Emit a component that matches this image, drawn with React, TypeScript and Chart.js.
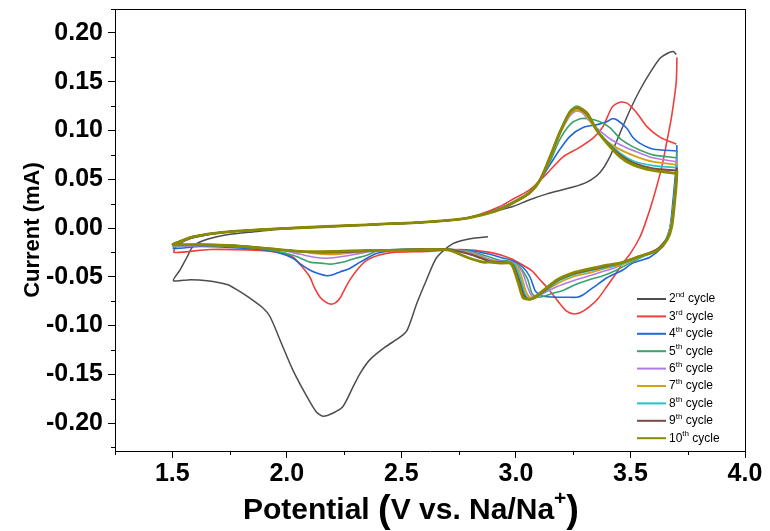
import React, { useEffect, useRef } from "react";
import { Chart, registerables } from "chart.js";

Chart.register(...registerables);

// ---- data (potential V, current mA) ----
const xMajorTicks = [1.5, 2.0, 2.5, 3.0, 3.5, 4.0];
const yMajorTicks = [-0.2, -0.15, -0.1, -0.05, 0.0, 0.05, 0.1, 0.15, 0.2];
const cycleNumbers = ["2", "3", "4", "5", "6", "7", "8", "9", "10"];
const cycleSuffixes = ["nd", "rd", "th", "th", "th", "th", "th", "th", "th"];
const cycleColors = ["#4d4d4d", "#f23d3d", "#2167d8", "#3aa36b", "#b07ce6", "#d4a01a", "#22c4c4", "#7a4a4a", "#8a8a00"];

const cycle2 = [
  [2.878, -0.009], [2.8, -0.011], [2.725, -0.016], [2.655, -0.03], [2.61, -0.053], [2.568, -0.077],
  [2.525, -0.105], [2.494, -0.112], [2.43, -0.122], [2.363, -0.135], [2.32, -0.149], [2.289, -0.163],
  [2.245, -0.183], [2.2, -0.19], [2.158, -0.193], [2.13, -0.189], [2.088, -0.173], [2.027, -0.146],
  [1.983, -0.122], [1.927, -0.091], [1.896, -0.082], [1.839, -0.072], [1.78, -0.063], [1.739, -0.058],
  [1.652, -0.054], [1.58, -0.053], [1.505, -0.054], [1.534, -0.043], [1.564, -0.03], [1.59, -0.019],
  [1.634, -0.013], [1.739, -0.007], [1.85, -0.004], [2.03, 0.0], [2.32, 0.003], [2.6, 0.006],
  [2.756, 0.009], [2.843, 0.013], [2.92, 0.018], [2.987, 0.022], [3.06, 0.029], [3.136, 0.035],
  [3.25, 0.042], [3.31, 0.047], [3.367, 0.057], [3.41, 0.073], [3.454, 0.097], [3.498, 0.121],
  [3.54, 0.141], [3.585, 0.159], [3.629, 0.174], [3.66, 0.179], [3.686, 0.181], [3.7, 0.178],
];
const cycle3 = [
  [3.703, 0.175], [3.7, 0.15], [3.69, 0.131], [3.675, 0.108], [3.66, 0.09], [3.637, 0.063],
  [3.598, 0.029], [3.565, 0.005], [3.54, -0.01], [3.5, -0.026], [3.467, -0.036], [3.43, -0.049],
  [3.397, -0.06], [3.36, -0.072], [3.32, -0.081], [3.28, -0.087], [3.25, -0.088], [3.22, -0.085],
  [3.18, -0.074], [3.14, -0.062], [3.105, -0.053], [3.07, -0.044], [3.03, -0.038], [2.974, -0.031],
  [2.887, -0.025], [2.756, -0.022], [2.61, -0.024], [2.463, -0.025], [2.4, -0.028], [2.35, -0.033],
  [2.31, -0.042], [2.276, -0.053], [2.25, -0.064], [2.232, -0.072], [2.21, -0.077], [2.19, -0.078],
  [2.17, -0.076], [2.145, -0.071], [2.12, -0.061], [2.1, -0.05], [2.06, -0.038], [2.027, -0.03],
  [1.96, -0.025], [1.883, -0.023], [1.665, -0.022], [1.508, -0.025], [1.52, -0.018], [1.59, -0.01],
  [1.74, -0.004], [2.03, 0.0], [2.32, 0.003], [2.6, 0.006], [2.756, 0.009], [2.843, 0.014],
  [2.93, 0.022], [2.99, 0.03], [3.06, 0.039], [3.136, 0.056], [3.206, 0.073], [3.28, 0.083],
  [3.34, 0.093], [3.38, 0.104], [3.42, 0.124], [3.454, 0.129], [3.485, 0.128], [3.528, 0.118],
  [3.572, 0.104], [3.63, 0.093], [3.7, 0.086],
];
const cycle4 = [
  [3.703, 0.085], [3.7, 0.065], [3.694, 0.049], [3.686, 0.029], [3.673, 0.001], [3.655, -0.012],
  [3.642, -0.019], [3.585, -0.03], [3.51, -0.036], [3.467, -0.043], [3.397, -0.051], [3.35, -0.059],
  [3.32, -0.064], [3.29, -0.069], [3.267, -0.071], [3.22, -0.071], [3.18, -0.071], [3.118, -0.07],
  [3.095, -0.067], [3.083, -0.064], [3.061, -0.05], [3.03, -0.04], [2.99, -0.034], [2.93, -0.03],
  [2.887, -0.027], [2.8, -0.023], [2.712, -0.022], [2.6, -0.022], [2.5, -0.022], [2.394, -0.026],
  [2.32, -0.035], [2.27, -0.042], [2.232, -0.045], [2.2, -0.048], [2.175, -0.049], [2.14, -0.047],
  [2.1, -0.043], [2.06, -0.037], [2.027, -0.031], [1.96, -0.025], [1.88, -0.022], [1.75, -0.02],
  [1.62, -0.019], [1.505, -0.021], [1.52, -0.017], [1.59, -0.01], [1.74, -0.004], [2.03, 0.0],
  [2.32, 0.003], [2.6, 0.006], [2.756, 0.009], [2.843, 0.013], [2.93, 0.02], [2.99, 0.027],
  [3.06, 0.036], [3.105, 0.049], [3.149, 0.065], [3.19, 0.08], [3.236, 0.094], [3.293, 0.103],
  [3.354, 0.106], [3.397, 0.109], [3.42, 0.112], [3.44, 0.111], [3.485, 0.102], [3.51, 0.093],
  [3.54, 0.087], [3.598, 0.081], [3.7, 0.079],
];
const cycle5 = [
  [3.703, 0.079], [3.7, 0.06], [3.694, 0.04], [3.68, 0.01], [3.66, -0.01], [3.62, -0.022],
  [3.54, -0.031], [3.44, -0.043], [3.38, -0.049], [3.32, -0.053], [3.26, -0.058], [3.206, -0.064],
  [3.16, -0.067], [3.136, -0.069], [3.092, -0.071], [3.07, -0.067], [3.05, -0.052], [3.01, -0.038],
  [2.97, -0.034], [2.93, -0.033], [2.887, -0.03], [2.8, -0.024], [2.712, -0.022], [2.55, -0.022],
  [2.4, -0.023], [2.35, -0.028], [2.3, -0.031], [2.26, -0.034], [2.22, -0.036], [2.19, -0.037],
  [2.15, -0.036], [2.1, -0.035], [2.06, -0.031], [2.027, -0.028], [1.96, -0.024], [1.88, -0.021],
  [1.75, -0.019], [1.62, -0.018], [1.505, -0.019], [1.52, -0.016], [1.59, -0.009], [1.74, -0.004],
  [2.03, 0.0], [2.32, 0.003], [2.6, 0.006], [2.756, 0.009], [2.843, 0.013], [2.93, 0.02],
  [2.99, 0.027], [3.06, 0.037], [3.105, 0.05], [3.149, 0.068], [3.19, 0.09], [3.236, 0.106],
  [3.28, 0.112], [3.32, 0.112], [3.367, 0.109], [3.41, 0.103], [3.454, 0.092], [3.498, 0.085],
  [3.54, 0.08], [3.598, 0.075], [3.7, 0.072],
];
const cycle6 = [
  [3.703, 0.072], [3.7, 0.055], [3.694, 0.037], [3.68, 0.008], [3.66, -0.01], [3.616, -0.022],
  [3.54, -0.03], [3.44, -0.04], [3.32, -0.049], [3.25, -0.054], [3.18, -0.06], [3.12, -0.067],
  [3.09, -0.071], [3.07, -0.07], [3.05, -0.06], [3.03, -0.046], [3.005, -0.038], [2.97, -0.035],
  [2.93, -0.034], [2.887, -0.032], [2.8, -0.025], [2.712, -0.022], [2.55, -0.022], [2.4, -0.023],
  [2.32, -0.026], [2.25, -0.029], [2.175, -0.031], [2.12, -0.03], [2.06, -0.027], [1.96, -0.022],
  [1.765, -0.018], [1.62, -0.018], [1.505, -0.019], [1.52, -0.016], [1.59, -0.009], [1.74, -0.004],
  [2.03, 0.0], [2.32, 0.003], [2.6, 0.006], [2.756, 0.009], [2.843, 0.013], [2.93, 0.019],
  [2.99, 0.026], [3.06, 0.036], [3.105, 0.05], [3.149, 0.071], [3.19, 0.095], [3.236, 0.115],
  [3.265, 0.12], [3.29, 0.118], [3.32, 0.11], [3.38, 0.097], [3.42, 0.09], [3.485, 0.082],
  [3.54, 0.077], [3.598, 0.072], [3.7, 0.068],
];
const cycle7 = [
  [3.703, 0.068], [3.7, 0.052], [3.694, 0.035], [3.68, 0.006], [3.66, -0.01], [3.616, -0.022],
  [3.54, -0.03], [3.454, -0.038], [3.397, -0.041], [3.32, -0.046], [3.25, -0.05], [3.18, -0.057],
  [3.12, -0.066], [3.085, -0.072], [3.065, -0.072], [3.045, -0.066], [3.025, -0.05], [3.005, -0.039],
  [2.98, -0.036], [2.93, -0.035], [2.887, -0.033], [2.8, -0.026], [2.712, -0.022], [2.55, -0.022],
  [2.4, -0.023], [2.3, -0.025], [2.2, -0.027], [2.12, -0.026], [2.057, -0.024], [1.913, -0.021],
  [1.765, -0.018], [1.62, -0.017], [1.503, -0.018], [1.52, -0.016], [1.59, -0.009], [1.74, -0.004],
  [2.03, 0.0], [2.32, 0.003], [2.6, 0.006], [2.756, 0.009], [2.843, 0.013], [2.93, 0.019],
  [2.99, 0.026], [3.06, 0.036], [3.105, 0.049], [3.149, 0.072], [3.19, 0.096], [3.236, 0.117],
  [3.27, 0.121], [3.3, 0.117], [3.34, 0.104], [3.38, 0.093], [3.42, 0.085], [3.485, 0.077],
  [3.54, 0.072], [3.598, 0.068], [3.7, 0.065],
];
const cycle8 = [
  [3.703, 0.065], [3.7, 0.049], [3.694, 0.033], [3.68, 0.005], [3.66, -0.01], [3.616, -0.022],
  [3.54, -0.03], [3.454, -0.037], [3.397, -0.04], [3.32, -0.044], [3.25, -0.048], [3.18, -0.055],
  [3.12, -0.066], [3.08, -0.072], [3.06, -0.073], [3.04, -0.068], [3.02, -0.052], [3.0, -0.04],
  [2.98, -0.036], [2.93, -0.035], [2.887, -0.034], [2.8, -0.027], [2.712, -0.022], [2.55, -0.022],
  [2.4, -0.023], [2.2, -0.025], [2.057, -0.024], [1.913, -0.021], [1.765, -0.018], [1.62, -0.017],
  [1.503, -0.018], [1.52, -0.016], [1.59, -0.009], [1.74, -0.004], [2.03, 0.0], [2.32, 0.003],
  [2.6, 0.006], [2.756, 0.009], [2.843, 0.013], [2.93, 0.019], [2.99, 0.026], [3.06, 0.036],
  [3.105, 0.049], [3.149, 0.073], [3.19, 0.098], [3.236, 0.12], [3.265, 0.125], [3.3, 0.119],
  [3.354, 0.101], [3.4, 0.088], [3.454, 0.077], [3.51, 0.069], [3.598, 0.064], [3.7, 0.062],
];
const cycle9 = [
  [3.703, 0.062], [3.7, 0.047], [3.694, 0.031], [3.68, 0.003], [3.66, -0.011], [3.616, -0.022],
  [3.54, -0.029], [3.454, -0.036], [3.397, -0.039], [3.32, -0.043], [3.25, -0.047], [3.18, -0.054],
  [3.12, -0.065], [3.078, -0.072], [3.055, -0.073], [3.035, -0.069], [3.015, -0.054], [2.99, -0.039],
  [2.974, -0.036], [2.93, -0.035], [2.887, -0.034], [2.8, -0.027], [2.712, -0.022], [2.55, -0.022],
  [2.4, -0.023], [2.2, -0.025], [2.057, -0.024], [1.913, -0.021], [1.765, -0.018], [1.62, -0.017],
  [1.503, -0.017], [1.52, -0.015], [1.59, -0.009], [1.74, -0.004], [2.03, 0.0], [2.32, 0.003],
  [2.6, 0.006], [2.756, 0.009], [2.843, 0.013], [2.93, 0.019], [2.99, 0.026], [3.06, 0.036],
  [3.105, 0.049], [3.149, 0.073], [3.19, 0.097], [3.236, 0.119], [3.268, 0.123], [3.31, 0.117],
  [3.354, 0.1], [3.397, 0.088], [3.454, 0.075], [3.51, 0.067], [3.598, 0.061], [3.7, 0.059],
];
const cycle10 = [
  [3.703, 0.059], [3.7, 0.045], [3.694, 0.029], [3.68, 0.001], [3.66, -0.012], [3.616, -0.023],
  [3.54, -0.029], [3.454, -0.036], [3.397, -0.038], [3.32, -0.042], [3.25, -0.046], [3.18, -0.053],
  [3.12, -0.064], [3.075, -0.072], [3.05, -0.073], [3.03, -0.071], [3.01, -0.056], [2.987, -0.04],
  [2.974, -0.036], [2.93, -0.036], [2.887, -0.035], [2.856, -0.035], [2.786, -0.03], [2.712, -0.023],
  [2.638, -0.022], [2.494, -0.023], [2.35, -0.023], [2.2, -0.024], [2.057, -0.024], [1.913, -0.021],
  [1.765, -0.018], [1.62, -0.017], [1.503, -0.017], [1.52, -0.015], [1.59, -0.009], [1.74, -0.004],
  [2.03, 0.0], [2.32, 0.003], [2.6, 0.006], [2.756, 0.009], [2.843, 0.013], [2.93, 0.019],
  [2.99, 0.026], [3.06, 0.036], [3.105, 0.049], [3.149, 0.073], [3.19, 0.097], [3.236, 0.119],
  [3.27, 0.124], [3.31, 0.118], [3.354, 0.1], [3.397, 0.087], [3.454, 0.073], [3.51, 0.065],
  [3.598, 0.059], [3.7, 0.056],
];

const allCycles = [cycle2, cycle3, cycle4, cycle5, cycle6, cycle7, cycle8, cycle9, cycle10];
const lineWidths = [1.5, 1.6, 1.6, 1.6, 1.6, 1.8, 1.8, 2, 2.8];

const FONT = "'Liberation Sans', Arial, Helvetica, sans-serif";

const decorPlugin = {
  id: "decor",
  afterDraw(chart: any) {
    const { ctx, chartArea: a, scales } = chart;
    const xs = scales.x;
    const ys = scales.y;
    ctx.save();
    ctx.strokeStyle = "#000";
    ctx.lineWidth = 1;
    // top and right frame
    ctx.beginPath();
    ctx.moveTo(a.left, Math.round(a.top) + 0.5);
    ctx.lineTo(a.right, Math.round(a.top) + 0.5);
    ctx.moveTo(Math.round(a.right) + 0.5, a.top);
    ctx.lineTo(Math.round(a.right) + 0.5, a.bottom);
    ctx.stroke();
    // minor ticks
    ctx.beginPath();
    for (let v = 1.25; v <= 4.0001; v += 0.5) {
      const px = Math.round(xs.getPixelForValue(v)) + 0.5;
      ctx.moveTo(px, a.bottom);
      ctx.lineTo(px, a.bottom + 4);
    }
    for (let v = -0.225; v <= 0.2251; v += 0.05) {
      const py = Math.round(ys.getPixelForValue(v)) + 0.5;
      ctx.moveTo(a.left, py);
      ctx.lineTo(a.left - 4, py);
    }
    ctx.stroke();

    // legend
    const lx0 = 637, lx1 = 666, tx = 669, ly0 = 299, step = 17.4;
    ctx.textBaseline = "middle";
    ctx.textAlign = "left";
    ctx.fillStyle = "#000";
    for (let i = 0; i < cycleNumbers.length; i++) {
      const y = ly0 + i * step;
      ctx.strokeStyle = cycleColors[i];
      ctx.lineWidth = 2;
      ctx.beginPath();
      ctx.moveTo(lx0, y);
      ctx.lineTo(lx1, y);
      ctx.stroke();
      let x = tx;
      ctx.font = `12px ${FONT}`;
      ctx.fillText(cycleNumbers[i], x, y);
      x += ctx.measureText(cycleNumbers[i]).width;
      ctx.font = `8px ${FONT}`;
      ctx.fillText(cycleSuffixes[i], x, y - 4);
      x += ctx.measureText(cycleSuffixes[i]).width;
      ctx.font = `12px ${FONT}`;
      ctx.fillText(" cycle", x, y);
    }

    // y title
    ctx.save();
    ctx.translate(33, 230);
    ctx.rotate(-Math.PI / 2);
    ctx.textAlign = "center";
    ctx.textBaseline = "middle";
    ctx.font = `bold 22px ${FONT}`;
    ctx.fillText("Current (mA)", 0, 0);
    ctx.restore();

    // x title
    const base = 519;
    const parts = [
      { t: "Potential ", f: `bold 30px ${FONT}`, dy: 0 },
      { t: "(", f: `bold 38px ${FONT}`, dy: 3 },
      { t: "V vs. Na/Na", f: `bold 30px ${FONT}`, dy: 0 },
      { t: "+", f: `bold 21px ${FONT}`, dy: -14 },
      { t: ")", f: `bold 38px ${FONT}`, dy: 3 },
    ];
    let total = 0;
    for (const p of parts) {
      ctx.font = p.f;
      total += ctx.measureText(p.t).width;
    }
    let x = 411 - total / 2;
    ctx.textBaseline = "alphabetic";
    for (const p of parts) {
      ctx.font = p.f;
      ctx.fillText(p.t, x, base + p.dy);
      x += ctx.measureText(p.t).width;
    }
    ctx.restore();
  },
};

export default function App() {
  const ref = useRef<HTMLCanvasElement | null>(null);
  useEffect(() => {
    if (!ref.current) return;
    const chart = new Chart(ref.current, {
      type: "scatter",
      data: {
        datasets: allCycles.map((cyc, i) => ({
          label: cycleNumbers[i] + cycleSuffixes[i] + " cycle",
          data: cyc.map(([x, y]) => ({ x, y })),
          showLine: true,
          borderColor: cycleColors[i],
          backgroundColor: cycleColors[i],
          borderWidth: lineWidths[i],
          pointRadius: 0,
          tension: 0.25,
          fill: false,
          order: allCycles.length - i,
        })),
      },
      options: {
        animation: false,
        responsive: false,
        maintainAspectRatio: false,
        devicePixelRatio: 1,
        layout: { padding: { left: 0, right: 25, top: 9, bottom: 0 } },
        plugins: { legend: { display: false }, tooltip: { enabled: false }, title: { display: false } },
        scales: {
          x: {
            type: "linear",
            min: 1.25,
            max: 4.0,
            afterBuildTicks: (s: any) => {
              s.ticks = xMajorTicks.map((v) => ({ value: v }));
            },
            afterFit: (s: any) => {
              s.height = 80;
              s.paddingLeft = 0;
              s.paddingRight = 0;
            },
            grid: { display: true, drawOnChartArea: false, drawTicks: true, tickLength: 7, color: "#000" },
            border: { display: true, color: "#000", width: 1 },
            ticks: {
              color: "#000",
              padding: 1,
              maxRotation: 0,
              font: { family: FONT, size: 25, weight: "bold" },
              callback: (v: any) => Number(v).toFixed(1),
            },
          },
          y: {
            type: "linear",
            min: -0.2287,
            max: 0.2246,
            afterBuildTicks: (s: any) => {
              s.ticks = yMajorTicks.map((v) => ({ value: v }));
            },
            afterFit: (s: any) => {
              s.width = 115;
              s.paddingTop = 0;
              s.paddingBottom = 0;
            },
            grid: { display: true, drawOnChartArea: false, drawTicks: true, tickLength: 7, color: "#000" },
            border: { display: true, color: "#000", width: 1 },
            ticks: {
              color: "#000",
              padding: 5,
              font: { family: FONT, size: 25, weight: "bold" },
              callback: (v: any) => Number(v).toFixed(2),
            },
          },
        },
      },
      plugins: [decorPlugin],
    } as any);
    return () => chart.destroy();
  }, []);
  return (
    <div style={{ position: "fixed", left: 0, top: 0, width: 770, height: 531, background: "#fff" }}>
      <canvas ref={ref} width={770} height={531} style={{ width: 770, height: 531 }} />
    </div>
  );
}
